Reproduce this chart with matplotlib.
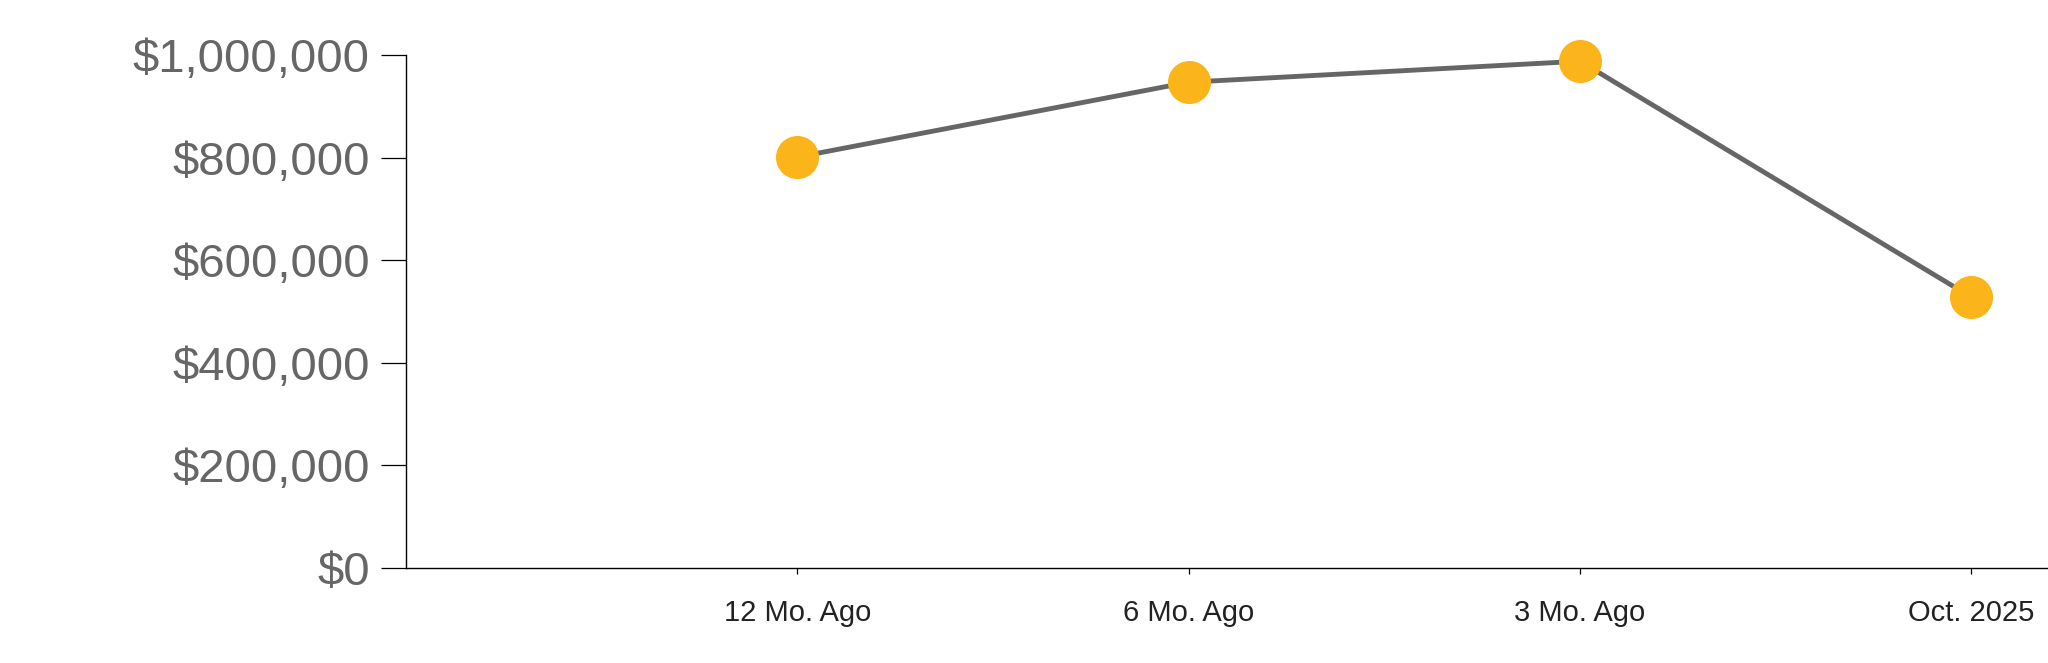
import matplotlib
matplotlib.use("Agg")
import matplotlib.pyplot as plt
from matplotlib.ticker import FuncFormatter

# values
labels = ["12 Mo. Ago", "6 Mo. Ago", "3 Mo. Ago", "Oct. 2025"]
values = [801000, 947000, 988000, 528000]
yticks = [0, 200000, 400000, 600000, 800000, 1000000]

plt.rcParams["font.family"] = ["Liberation Sans", "DejaVu Sans"]

fig = plt.figure(figsize=(20.48, 6.63), dpi=100)
ax = fig.add_axes([0.1982, 0.1433, 0.8018, 0.7737])

x = list(range(1, len(labels) + 1))
ax.plot(x, values, color="#666666", linewidth=3.5, zorder=2, clip_on=False)
ax.plot(x, values, linestyle="none", marker="o", markersize=30,
        markerfacecolor="#FBB41A", markeredgecolor="#FBB41A", zorder=3,
        clip_on=False)

ax.set_xlim(0, 4.196)
ax.set_ylim(0, 1000000)
ax.set_xticks(x)
ax.set_xticklabels(labels)
ax.set_yticks(yticks)
ax.yaxis.set_major_formatter(FuncFormatter(lambda v, p: "${:,.0f}".format(v)))

ax.spines["top"].set_visible(False)
ax.spines["right"].set_visible(False)
for s in ("left", "bottom"):
    ax.spines[s].set_color("black")
    ax.spines[s].set_linewidth(1.0)

ax.tick_params(axis="y", length=18, width=0.9, color="black", pad=8,
               labelsize=34, labelcolor="#666666")
ax.tick_params(axis="x", length=4, width=0.9, color="black", pad=18,
               labelsize=21, labelcolor="#222222")

fig.savefig("out.png", dpi=100)
